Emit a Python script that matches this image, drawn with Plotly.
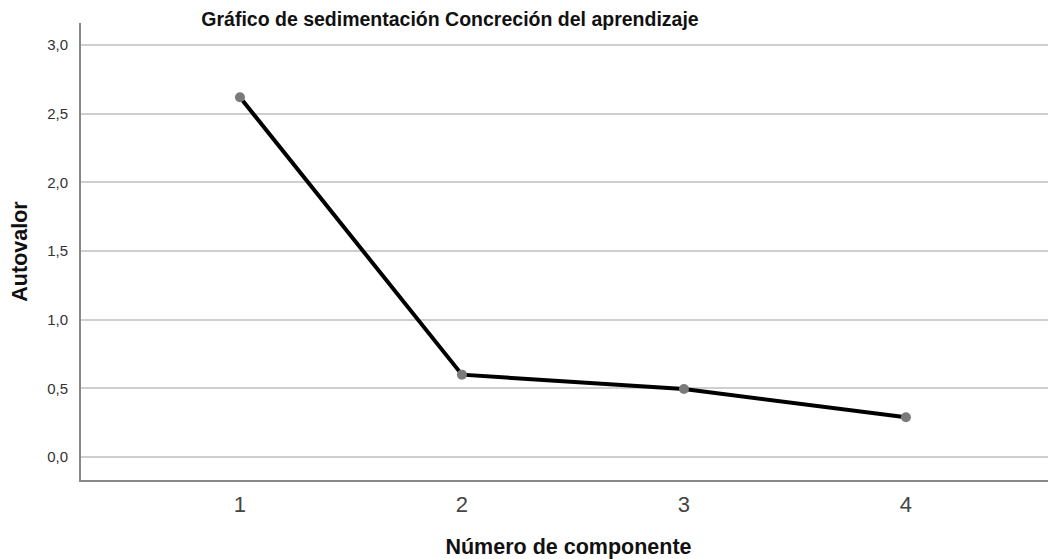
import plotly.graph_objects as go

componentes = [1, 2, 3, 4]
autovalores = [2.62, 0.60, 0.495, 0.29]
y_ticks = [0.0, 0.5, 1.0, 1.5, 2.0, 2.5, 3.0]

# the page body adds an 8px margin, so the figure is 8px smaller each way
W, H = 1048, 551

fig = go.Figure()

fig.add_trace(go.Scatter(
    x=componentes,
    y=autovalores,
    mode="lines+markers",
    line=dict(color="black", width=4),
    marker=dict(color="#7a7a7a", size=10),
    showlegend=False,
))

fig.update_layout(
    width=W,
    height=H,
    margin=dict(l=73, r=0, t=15, b=79),
    paper_bgcolor="white",
    plot_bgcolor="white",
    separators=",.",
    font=dict(family="Liberation Sans, Arial, sans-serif", color="#222"),
    title=dict(
        text="<b>Gráfico de sedimentación Concreción del aprendizaje</b>",
        x=442 / W,
        xanchor="center",
        xref="container",
        y=1 - 11 / H,
        yanchor="middle",
        font=dict(size=19.5, color="#111"),
    ),
)

fig.update_xaxes(
    range=[0.284, 4.676],
    tickvals=componentes,
    ticktext=[str(c) for c in componentes],
    showgrid=False,
    zeroline=False,
    showline=True,
    linecolor="#888",
    linewidth=2,
    ticks="",
    ticklabelstandoff=4,
    tickfont=dict(size=22, color="#444"),
    title=dict(text="<b>Número de componente</b>", font=dict(size=21.5, color="#111"), standoff=23),
)

fig.update_yaxes(
    range=[-0.167, 3.16],
    tickvals=y_ticks,
    tickformat=".1f",
    showgrid=True,
    gridcolor="#cfcfcf",
    gridwidth=1.5,
    zeroline=False,
    showline=True,
    linecolor="#888",
    linewidth=2,
    ticks="",
    ticklabelstandoff=8,
    tickfont=dict(size=15, color="#333"),
    title=dict(text="<b>Autovalor</b>", font=dict(size=21.5, color="#111"), standoff=20),
)

fig.write_html("out.html")
